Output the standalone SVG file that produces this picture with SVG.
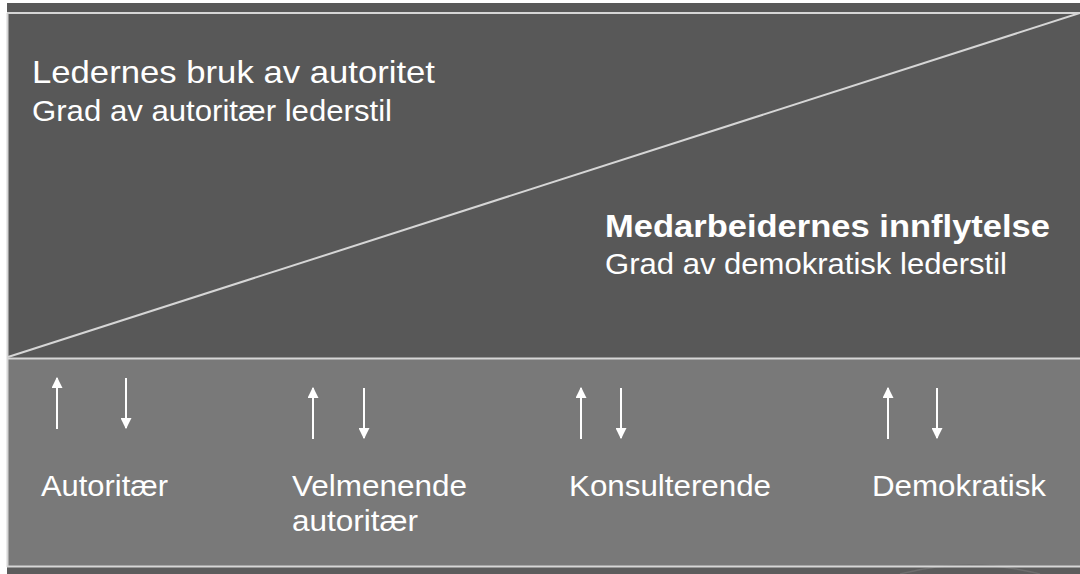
<svg xmlns="http://www.w3.org/2000/svg" width="1080" height="574" viewBox="0 0 1080 574">
  <style>
    .t { font-family: "Liberation Sans", Arial, sans-serif; fill: #ffffff; }
    .big { font-size: 32px; }
    .sub { font-size: 30px; }
    .lbl { font-size: 29px; }
    .sep { stroke: #d6d6d6; stroke-width: 2; fill: none; }
    .ar { stroke: #ffffff; stroke-width: 2; fill: none; }
  </style>
  <defs>
    <marker id="ah" viewBox="0 0 10 10" refX="9" refY="5" markerWidth="11" markerHeight="11" markerUnits="userSpaceOnUse" orient="auto">
      <path d="M0,0 L10,5 L0,10 Z" fill="#ffffff"/>
    </marker>
  </defs>
  <rect x="0" y="0" width="1080" height="574" fill="#ffffff"/>
  <g id="background">
    <rect x="7" y="3" width="1073" height="356" fill="#585858"/>
    <rect x="7" y="359" width="1073" height="208" fill="#797979"/>
    <rect x="7" y="567" width="1073" height="7" fill="#5c5c5c"/>
    <path d="M900,574 Q970,556 1040,574" stroke="#6e6e6e" stroke-width="1.5" fill="none"/>
    <line class="sep" x1="7" y1="13" x2="1080" y2="13"/>
    <line class="sep" x1="7.5" y1="13" x2="7.5" y2="567"/>
    <line class="sep" x1="7" y1="358.5" x2="1080" y2="358.5"/>
    <line class="sep" x1="7" y1="566.5" x2="1080" y2="566.5"/>
    <line class="sep" x1="8" y1="357" x2="1080" y2="13"/>
  </g>
  <g id="header-authority">
    <text class="t big" x="32" y="83" textLength="403" lengthAdjust="spacingAndGlyphs">Ledernes bruk av autoritet</text>
    <text class="t sub" x="32" y="121" textLength="360" lengthAdjust="spacingAndGlyphs">Grad av autoritær lederstil</text>
  </g>
  <g id="header-influence">
    <text class="t big" x="605" y="237" font-weight="bold" textLength="445" lengthAdjust="spacingAndGlyphs">Medarbeidernes innflytelse</text>
    <text class="t sub" x="605" y="274" textLength="402" lengthAdjust="spacingAndGlyphs">Grad av demokratisk lederstil</text>
  </g>
  <g id="connectors">
    <line class="ar" x1="57" y1="429" x2="57" y2="378" marker-end="url(#ah)"/>
    <line class="ar" x1="126" y1="378" x2="126" y2="428" marker-end="url(#ah)"/>
    <line class="ar" x1="313" y1="439" x2="313" y2="388" marker-end="url(#ah)"/>
    <line class="ar" x1="364" y1="388" x2="364" y2="438" marker-end="url(#ah)"/>
    <line class="ar" x1="581" y1="439" x2="581" y2="388" marker-end="url(#ah)"/>
    <line class="ar" x1="621" y1="388" x2="621" y2="438" marker-end="url(#ah)"/>
    <line class="ar" x1="888" y1="439" x2="888" y2="388" marker-end="url(#ah)"/>
    <line class="ar" x1="937" y1="388" x2="937" y2="438" marker-end="url(#ah)"/>
  </g>
  <g id="style-autoritaer">
    <text class="t lbl" x="41" y="496" textLength="127" lengthAdjust="spacingAndGlyphs">Autoritær</text>
  </g>
  <g id="style-velmenende">
    <text class="t lbl" x="292" y="496" textLength="175" lengthAdjust="spacingAndGlyphs">Velmenende</text>
    <text class="t lbl" x="292" y="531" textLength="126" lengthAdjust="spacingAndGlyphs">autoritær</text>
  </g>
  <g id="style-konsulterende">
    <text class="t lbl" x="569" y="496" textLength="202" lengthAdjust="spacingAndGlyphs">Konsulterende</text>
  </g>
  <g id="style-demokratisk">
    <text class="t lbl" x="872" y="496" textLength="174" lengthAdjust="spacingAndGlyphs">Demokratisk</text>
  </g>
</svg>
